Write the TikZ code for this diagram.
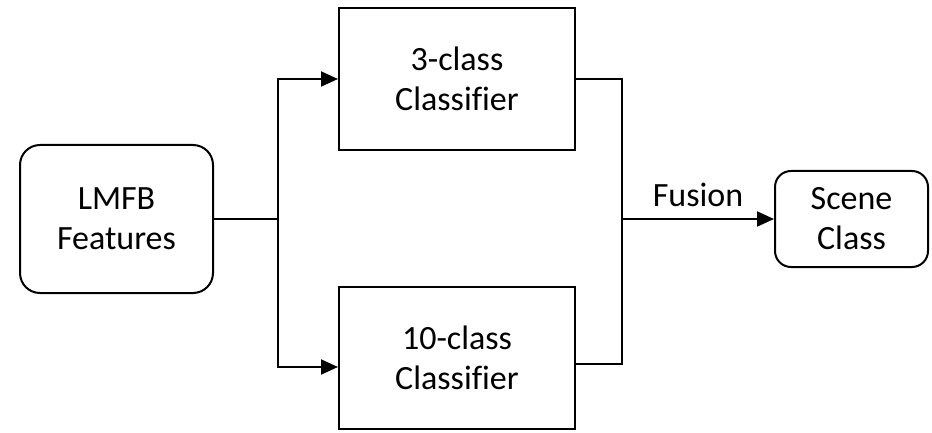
\documentclass[tikz,border=0pt]{standalone}
\usepackage{fontspec}
\setmainfont[Ligatures=NoCommon]{Carlito}
\usetikzlibrary{arrows.meta}
\begin{document}
\begin{tikzpicture}[x=1pt,y=-1pt,
    line width=2pt,
    every node/.style={font=\fontsize{34}{40}\selectfont, align=center, inner sep=0pt},
    roundbox/.style={draw, rounded corners=20pt, minimum width=#1},
    sqbox/.style={draw, minimum width=236pt, minimum height=142pt},
    flow/.style={-{Triangle[length=17pt,width=15pt]}},
    wire/.style={line join=miter}]
  \useasboundingbox (0,0) rectangle (932,433);

  % blocks
  \node[roundbox=193pt, minimum height=148pt] (feat) at (116.5,219) {LMFB\\Features};
  \node[sqbox] (cls3) at (457,79) {3-class\\Classifier};
  \node[sqbox] (cls10) at (457,357.5) {10-class\\Classifier};
  \node[roundbox=153pt, minimum height=96pt, rounded corners=16pt] (scene) at (851.5,219) {Scene\\Class};

  % split point and fusion point
  \coordinate (split) at (278,219);
  \coordinate (merge) at (622,219);
  \coordinate (in10) at (cls10.west |- 0,367);
  \coordinate (out10) at (cls10.east |- 0,364);

  % feature fan-out
  \draw[wire] (feat.east) -- (split);
  \draw[wire,flow] (split) |- (cls3.west);
  \draw[wire,flow] (split) |- (in10);

  % classifier outputs merged
  \draw[wire] (cls3.east) -| (merge) |- (out10);
  \draw[wire,flow] (merge) -- node[above=11pt] (fusion) {Fusion} (scene.west);
\end{tikzpicture}
\end{document}
